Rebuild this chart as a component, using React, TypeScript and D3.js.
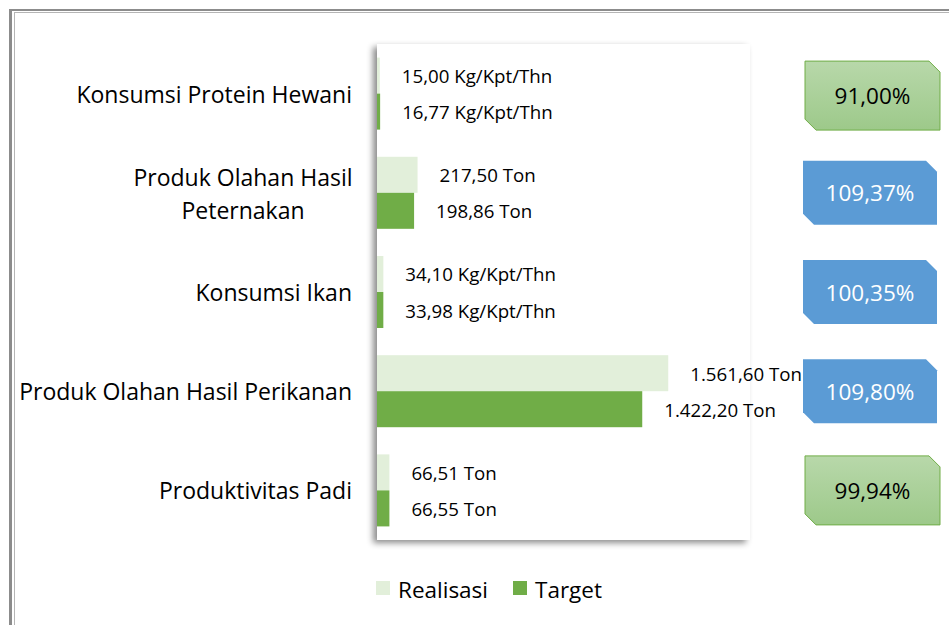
import React from "react";
import * as d3 from "d3";

const categories = [
  "Konsumsi Protein Hewani",
  "Produk Olahan Hasil Peternakan",
  "Konsumsi Ikan",
  "Produk Olahan Hasil Perikanan",
  "Produktivitas Padi",
];
const categoryLines = [
  ["Konsumsi Protein Hewani"],
  ["Produk Olahan Hasil", "Peternakan"],
  ["Konsumsi Ikan"],
  ["Produk Olahan Hasil Perikanan"],
  ["Produktivitas Padi"],
];
const realisasi = [15.0, 217.5, 34.1, 1561.6, 66.51];
const target = [16.77, 198.86, 33.98, 1422.2, 66.55];
const units = ["Kg/Kpt/Thn", "Ton", "Kg/Kpt/Thn", "Ton", "Ton"];
const capaian = [91.0, 109.37, 100.35, 109.8, 99.94];
const seriesNames = ["Realisasi", "Target"];
const xDomain = [0, 2000];

const FONT = "'Open Sans', 'Noto Sans', sans-serif";
const C_REAL = "#e2efda";
const C_TARG = "#70ad47";

const fmt = (v: number) => {
  const s = v.toFixed(2);
  const [i, d] = s.split(".");
  const ii = i.replace(/\B(?=(\d{3})+(?!\d))/g, ".");
  return ii + "," + d;
};

export default function App() {
  const W = 949,
    H = 625;
  const plot = { left: 377, right: 750, top: 44, bottom: 540 };
  const x = d3.scaleLinear().domain(xDomain).range([plot.left, plot.right]);
  const y = d3
    .scaleBand<string>()
    .domain(categories)
    .range([plot.top, plot.bottom])
    .paddingInner(0.274)
    .paddingOuter(0.137);
  const bw = y.bandwidth() / 2;

  const snip = (x0: number, y0: number, w: number, h: number, c: number) =>
    `M${x0},${y0} L${x0 + w - c},${y0} L${x0 + w},${y0 + c} L${x0 + w},${y0 + h} L${x0 + c},${y0 + h} L${x0},${y0 + h - c} Z`;

  return (
    <svg
      width={W}
      height={H}
      style={{ position: "absolute", left: 0, top: 0, background: "#fff" }}
      fontFamily={FONT}
    >
      <defs>
        <filter id="shadow" x="-10%" y="-10%" width="120%" height="120%">
          <feDropShadow dx={-4} dy={3} stdDeviation={3} floodColor="#000" floodOpacity={0.45} />
        </filter>
        <linearGradient id="greenGrad" x1="0" y1="0" x2="0" y2="1">
          <stop offset="0%" stopColor="#b8d8aa" />
          <stop offset="100%" stopColor="#9dc98a" />
        </linearGradient>
      </defs>
      <rect x={0} y={0} width={W} height={H} fill="#fff" />
      {/* frame */}
      <rect x={9} y={9} width={W} height={2} fill="#8c8c8c" />
      <rect x={9} y={9} width={3} height={H} fill="#8c8c8c" />
      <rect x={14} y={12} width={W} height={1} fill="#b5b5b5" />
      <rect x={14} y={12} width={1} height={H} fill="#b5b5b5" />

      {/* plot area */}
      <rect
        x={plot.left}
        y={plot.top}
        width={plot.right - plot.left}
        height={plot.bottom - plot.top}
        fill="#fff"
        filter="url(#shadow)"
      />

      {categories.map((c, i) => {
        const y0 = y(c)!;
        const cy = y0 + y.bandwidth() / 2;
        const lines = categoryLines[i];
        return (
          <g key={c}>
            <rect x={x(0)} y={y0} width={x(realisasi[i]) - x(0)} height={bw} fill={C_REAL} />
            <rect x={x(0)} y={y0 + bw} width={x(target[i]) - x(0)} height={bw} fill={C_TARG} />
            <text x={x(realisasi[i]) + 22} y={y0 + bw / 2} dominantBaseline="central" fontSize={18.7} fill="#000">
              {fmt(realisasi[i])} {units[i]}
            </text>
            <text x={x(target[i]) + 22} y={y0 + bw * 1.5} dominantBaseline="central" fontSize={18.7} fill="#000">
              {fmt(target[i])} {units[i]}
            </text>
            {lines.length === 1 ? (
              <text x={352} y={cy} textAnchor="end" dominantBaseline="central" fontSize={23} fill="#000">
                {lines[0]}
              </text>
            ) : (
              <g>
                <text x={243} y={cy - 16} textAnchor="middle" dominantBaseline="central" fontSize={23} fill="#000">
                  {lines[0]}
                </text>
                <text x={243} y={cy + 17} textAnchor="middle" dominantBaseline="central" fontSize={23} fill="#000">
                  {lines[1]}
                </text>
              </g>
            )}
          </g>
        );
      })}

      {/* badges */}
      {categories.map((c, i) => {
        const cy = y(c)! + y.bandwidth() / 2;
        const good = capaian[i] >= 100;
        const w = good ? 134 : 135;
        const h = good ? 64 : 69;
        const x0 = good ? 803 : 805;
        const y0 = cy - h / 2 + (i === 0 ? 2 : 0);
        return (
          <g key={"b" + c}>
            <path
              d={snip(x0, y0, w, h, 11)}
              fill={good ? "#5b9bd5" : "url(#greenGrad)"}
              stroke={good ? "none" : "#70ad47"}
              strokeWidth={1}
            />
            <text
              x={x0 + w / 2}
              y={y0 + h / 2}
              textAnchor="middle"
              dominantBaseline="central"
              fontSize={22.5}
              fill={good ? "#fff" : "#000"}
            >
              {fmt(capaian[i])}%
            </text>
          </g>
        );
      })}

      {/* legend */}
      {seriesNames.map((s, i) => {
        const lx = i === 0 ? 376 : 513;
        return (
          <g key={s}>
            <rect x={lx} y={581} width={14} height={14} fill={i === 0 ? C_REAL : C_TARG} />
            <text x={lx + 22} y={589} dominantBaseline="central" fontSize={22.5} fill="#000">
              {s}
            </text>
          </g>
        );
      })}
    </svg>
  );
}
